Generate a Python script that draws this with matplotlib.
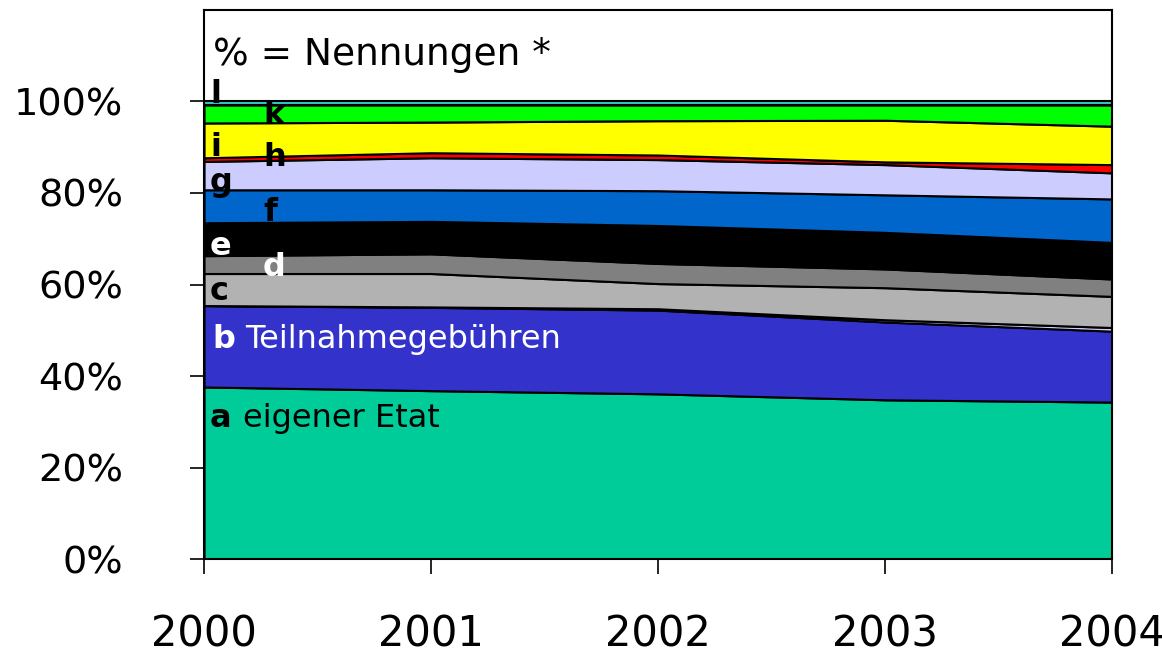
import matplotlib
matplotlib.use("Agg")
from matplotlib import pyplot as plt

years = [2000, 2001, 2002, 2003, 2004]

# shares in % (bottom to top)
a_etat = [37.6, 36.8, 36.1, 34.8, 34.3]
b_gebuehren = [17.8, 18.2, 18.3, 17.0, 15.5]
j_sonst = [0.0, 0.1, 0.3, 0.5, 0.8]
c_vals = [7.0, 7.3, 5.5, 7.0, 6.8]
d_vals = [3.9, 4.3, 4.4, 4.1, 3.8]
e_vals = [7.2, 7.1, 8.3, 8.0, 8.0]
f_vals = [7.2, 6.9, 7.6, 8.2, 9.5]
g_vals = [6.2, 7.0, 6.8, 6.6, 5.7]
h_vals = [0.8, 1.1, 1.0, 0.6, 1.8]
i_vals = [7.6, 6.7, 7.5, 9.1, 8.4]
k_vals = [3.9, 3.7, 3.4, 3.3, 4.6]
l_vals = [0.8, 0.8, 0.8, 0.8, 0.8]

series = [a_etat, b_gebuehren, j_sonst, c_vals, d_vals, e_vals, f_vals,
          g_vals, h_vals, i_vals, k_vals, l_vals]
colors = ["#00CC99", "#3333CC", "#CCCCFF", "#B2B2B2", "#808080", "#000000",
          "#0066CC", "#CCCCFF", "#FF0000", "#FFFF00", "#00FF00", "#33CCCC"]

fig = plt.figure(figsize=(11.62, 6.52), dpi=100)
ax = fig.add_axes([0.1756, 0.1426, 0.957 - 0.1756, 0.9847 - 0.1426])

ax.stackplot(years, *series, colors=colors, edgecolor="black", linewidth=1.5)

ax.set_xlim(2000, 2004)
ax.set_ylim(0, 120)
ax.set_yticks([0, 20, 40, 60, 80, 100])
ax.set_yticklabels(["0%", "20%", "40%", "60%", "80%", "100%"])
ax.set_xticks(years)
ax.set_xticklabels([str(y) for y in years])
ax.tick_params(axis="y", labelsize=27.5, length=10, width=1.2, pad=48)
ax.tick_params(axis="x", labelsize=30, length=11, width=1.2, pad=28)
for s in ax.spines.values():
    s.set_linewidth(1.5)

ax.text(0.01, 0.918, "% = Nennungen *", transform=ax.transAxes,
        fontsize=27, va="center", ha="left")

# series labels
bold = dict(fontsize=23, fontweight="bold", va="center", ha="left")
x1, x2 = 2000.026, 2000.26
ax.text(x1, 101.6, "l", color="black", **bold)
ax.text(x2, 97.0, "k", color="black", **bold)
ax.text(x1, 90.0, "i", color="black", **bold)
ax.text(x2, 87.8, "h", color="black", **bold)
ax.text(x1, 82.3, "g", color="black", **bold)
ax.text(x2, 75.8, "f", color="black", **bold)
ax.text(x1, 68.2, "e", color="white", **bold)
ax.text(x2, 63.8, "d", color="white", **bold)
ax.text(x1, 58.4, "c", color="black", **bold)
ax.text(2000.035, 48.0, "b", color="white", **bold)
ax.text(2000.18, 48.0, "Teilnahmegebühren", color="white", fontsize=23,
        va="center", ha="left")
ax.text(2000.026, 30.7, "a", color="black", **bold)
ax.text(2000.17, 30.7, "eigener Etat", color="black", fontsize=23,
        va="center", ha="left")

fig.savefig("out.png", dpi=100)
